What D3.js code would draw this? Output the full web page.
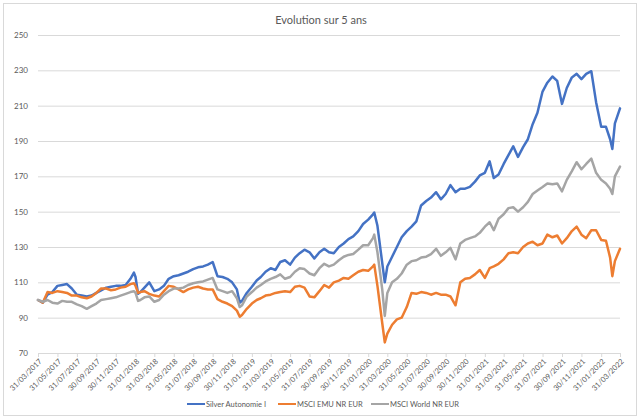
<!DOCTYPE html>
<html><head><meta charset="utf-8">
<script src="https://cdn.jsdelivr.net/npm/d3@7"></script>
<style>body{margin:0;background:#fff}svg{display:block}</style>
</head><body><svg id="c" width="640" height="420"></svg>
<script>
const chartTitle = "Evolution sur 5 ans";
const seriesNames = ["Silver Autonomie I", "MSCI EMU NR EUR", "MSCI World NR EUR"];
const seriesColors = ["#4472C4", "#ED7D31", "#A5A5A5"];
const yTicks = [70, 90, 110, 130, 150, 170, 190, 210, 230, 250];
const xTickLabels = ["31/03/2017","31/05/2017","31/07/2017","30/09/2017","30/11/2017","31/01/2018","31/03/2018","31/05/2018","31/07/2018","30/09/2018","30/11/2018","31/01/2019","31/03/2019","31/05/2019","31/07/2019","30/09/2019","30/11/2019","31/01/2020","31/03/2020","31/05/2020","31/07/2020","30/09/2020","30/11/2020","31/01/2021","31/03/2021","31/05/2021","31/07/2021","30/09/2021","30/11/2021","31/01/2022","31/03/2022"];

const dates = ["2017-03-31","2017-04-15","2017-04-30","2017-05-15","2017-05-31","2017-06-15","2017-06-30","2017-07-15","2017-07-31","2017-08-15","2017-08-31","2017-09-15","2017-09-30","2017-10-15","2017-10-31","2017-11-15","2017-11-30","2017-12-15","2017-12-31",
"2018-01-15","2018-01-26","2018-01-31","2018-02-08","2018-02-15","2018-02-28","2018-03-15","2018-03-31","2018-04-15","2018-04-30","2018-05-15","2018-05-31","2018-06-15","2018-06-30","2018-07-15","2018-07-31","2018-08-15","2018-08-31","2018-09-15","2018-09-30","2018-10-15","2018-10-31","2018-11-15","2018-11-30","2018-12-15","2018-12-24","2018-12-31",
"2019-01-15","2019-01-31","2019-02-15","2019-02-28","2019-03-15","2019-03-31","2019-04-15","2019-04-30","2019-05-15","2019-05-31","2019-06-15","2019-06-30","2019-07-15","2019-07-31","2019-08-15","2019-08-31","2019-09-15","2019-09-30","2019-10-15","2019-10-31","2019-11-15","2019-11-30","2019-12-15","2019-12-31",
"2020-01-15","2020-01-31","2020-02-15","2020-02-19","2020-02-29","2020-03-15","2020-03-23","2020-03-31","2020-04-15","2020-04-30","2020-05-15","2020-05-31","2020-06-15","2020-06-30","2020-07-15","2020-07-31","2020-08-15","2020-08-31","2020-09-15","2020-09-30","2020-10-15","2020-10-31","2020-11-15","2020-11-30","2020-12-15","2020-12-31",
"2021-01-15","2021-01-31","2021-02-15","2021-02-28","2021-03-15","2021-03-31","2021-04-15","2021-04-30","2021-05-15","2021-05-31","2021-06-15","2021-06-30","2021-07-15","2021-07-31","2021-08-15","2021-08-31","2021-09-15","2021-09-30","2021-10-15","2021-10-31","2021-11-15","2021-11-30","2021-12-15","2021-12-31",
"2022-01-15","2022-01-31","2022-02-15","2022-02-28","2022-03-07","2022-03-15","2022-03-31"];

const silver = [100,98.5,103,104.5,108,108.5,109,106.5,103,102.5,102,102.5,104,105.5,107,107.5,108,108,108.5,
112,115.5,113,103.5,104.5,107,110,105,106,108,112,113.5,114,115,116,117.5,118.5,119,120,121.5,113.5,113,112,110,106,98.5,99.5,
104,107.5,111,113,116,118,117,121.5,122.5,120,124,126.5,128.5,127,123.5,127,129,127,126.5,130,132,134.5,136,139,
143,145.5,148.5,149.5,142,121,110,119,124.5,130,135.5,139,141.5,144.5,153.5,156,158,161,157,160,165,161,163,163,164,167,
170.5,172,178.5,169,171,177,182,187,181,186.5,191,199.5,206,218,223,226.5,224,211,220,226,228,225,228,229.5,
212,198,198,191,185.5,200,208.5];

const emu = [100,98.5,104.5,104,105,104.5,104,102.5,102.5,101.5,101,102,104,106.5,106.5,105.5,106,107,107.5,
109,109.5,108,104,104.5,105,103.5,102.5,102,105,108,107.5,106,104.5,106,107,107.5,106.5,106,106,100.5,99,98,96.5,94,90.5,91.5,
95,98,100,101,102.5,103,104,104.5,105,104.5,107.5,108,107,102,101.5,105,108.5,107,110,111,112.5,112,114,116,
117,116.5,119,120,108,87,76,81,86,89,90,96,104,103.5,104.5,104,103,104,103,103,102,97,110,112,112.5,114.5,
117,112.5,118,119,120.5,123,126.5,127,126.5,130,132,133,131,132,137,135.5,136.5,132,135,139,141.5,137,135,139.5,
139.5,134,133.5,124,113.5,122,129];

const world = [100,99,100,98.5,98,99.5,99,99,97.5,96.5,95,96.5,98,100,100.5,101,101.5,102.5,103.5,
104.5,105,104,99.5,100,101.5,102,99,100,103,105,106.5,106.5,107,108.5,109.5,110,110.5,111.5,112.5,106,105,104,105,101,96,97,
102,104.5,107,108.5,110.5,112,113,114.5,112,113,116,118,117.5,115,114,118,120.5,119,120,122.5,124.5,125.5,126,128.5,
131,131,135,137,127,106,91,104,110,112,115,120,122,122.5,124,124.5,126,129,125,127,129.5,123,132,134,135,136,
138,141.5,144,139.5,146,148.5,152,152.5,150,152.5,155.5,160,162,164,166,165.5,166,161.5,168,173,178,174,177,180,
172,168,166,163,160,170,175.5];

const seriesValues = [silver, emu, world];

const parseISO = d3.timeParse("%Y-%m-%d");
const parseFR = d3.timeParse("%d/%m/%Y");
const fmtFR = d3.timeFormat("%d/%m/%Y");
const dateObjs = dates.map(parseISO);

const svg = d3.select("#c");
const font = "Lato, 'Open Sans', sans-serif";
const textCol = "#595959";

// chart border
svg.append("rect").attr("x", 3.5).attr("y", 3.5).attr("width", 633).attr("height", 412)
  .attr("fill", "#fff").attr("stroke", "#D9D9D9").attr("stroke-width", 1);

const x = d3.scaleTime().domain([parseISO("2017-03-31"), parseISO("2022-03-31")]).range([38, 620]);
const y = d3.scaleLinear().domain([70, 250]).range([353, 35]);

// title
svg.append("text").attr("x", 321).attr("y", 24).attr("text-anchor", "middle")
  .attr("font-family", font).attr("font-size", 11).attr("fill", textCol).text(chartTitle);

// y axis with gridlines
const gy = svg.append("g").attr("transform", "translate(38,0)")
  .call(d3.axisLeft(y).tickValues(yTicks).tickSize(-582).tickPadding(10).tickFormat(d3.format("d")));
gy.select(".domain").remove();
gy.selectAll(".tick line").attr("stroke", "#D9D9D9").attr("stroke-width", 1);
gy.selectAll(".tick text").attr("font-family", font).attr("font-size", 8).attr("fill", textCol);

// x axis
const gx = svg.append("g").attr("transform", "translate(0,353)")
  .call(d3.axisBottom(x).tickValues(xTickLabels.map(parseFR)).tickSize(4).tickSizeOuter(0).tickFormat(fmtFR));
gx.select(".domain").attr("stroke", "#D9D9D9");
gx.selectAll(".tick line").attr("stroke", "#D9D9D9");
gx.selectAll(".tick text")
  .attr("font-family", font).attr("font-size", 7.5).attr("fill", textCol)
  .attr("x", 0).attr("y", 0).attr("dy", "0.35em")
  .attr("text-anchor", "end")
  .attr("transform", "translate(2,7) rotate(-45)");

// lines
const line = d3.line().x(d => x(d.date)).y(d => y(d.v));
seriesValues.forEach((vals, i) => {
  const pts = vals.map((v, j) => ({date: dateObjs[j], v}));
  svg.append("path").datum(pts).attr("d", line)
    .attr("fill", "none").attr("stroke", seriesColors[i]).attr("stroke-width", 2.5)
    .attr("stroke-linejoin", "round").attr("stroke-linecap", "round");
});

// legend
const legendX = [187, 278, 371];
const lg = svg.append("g");
seriesNames.forEach((name, i) => {
  const g = lg.append("g").attr("transform", `translate(${legendX[i]},404)`);
  g.append("line").attr("x1", 0).attr("x2", 18).attr("y1", 0).attr("y2", 0)
    .attr("stroke", seriesColors[i]).attr("stroke-width", 2);
  g.append("text").attr("x", 19).attr("y", 0).attr("dy", "0.35em")
    .attr("font-family", font).attr("font-size", 7.5).attr("fill", textCol).text(name);
});
</script></body></html>
